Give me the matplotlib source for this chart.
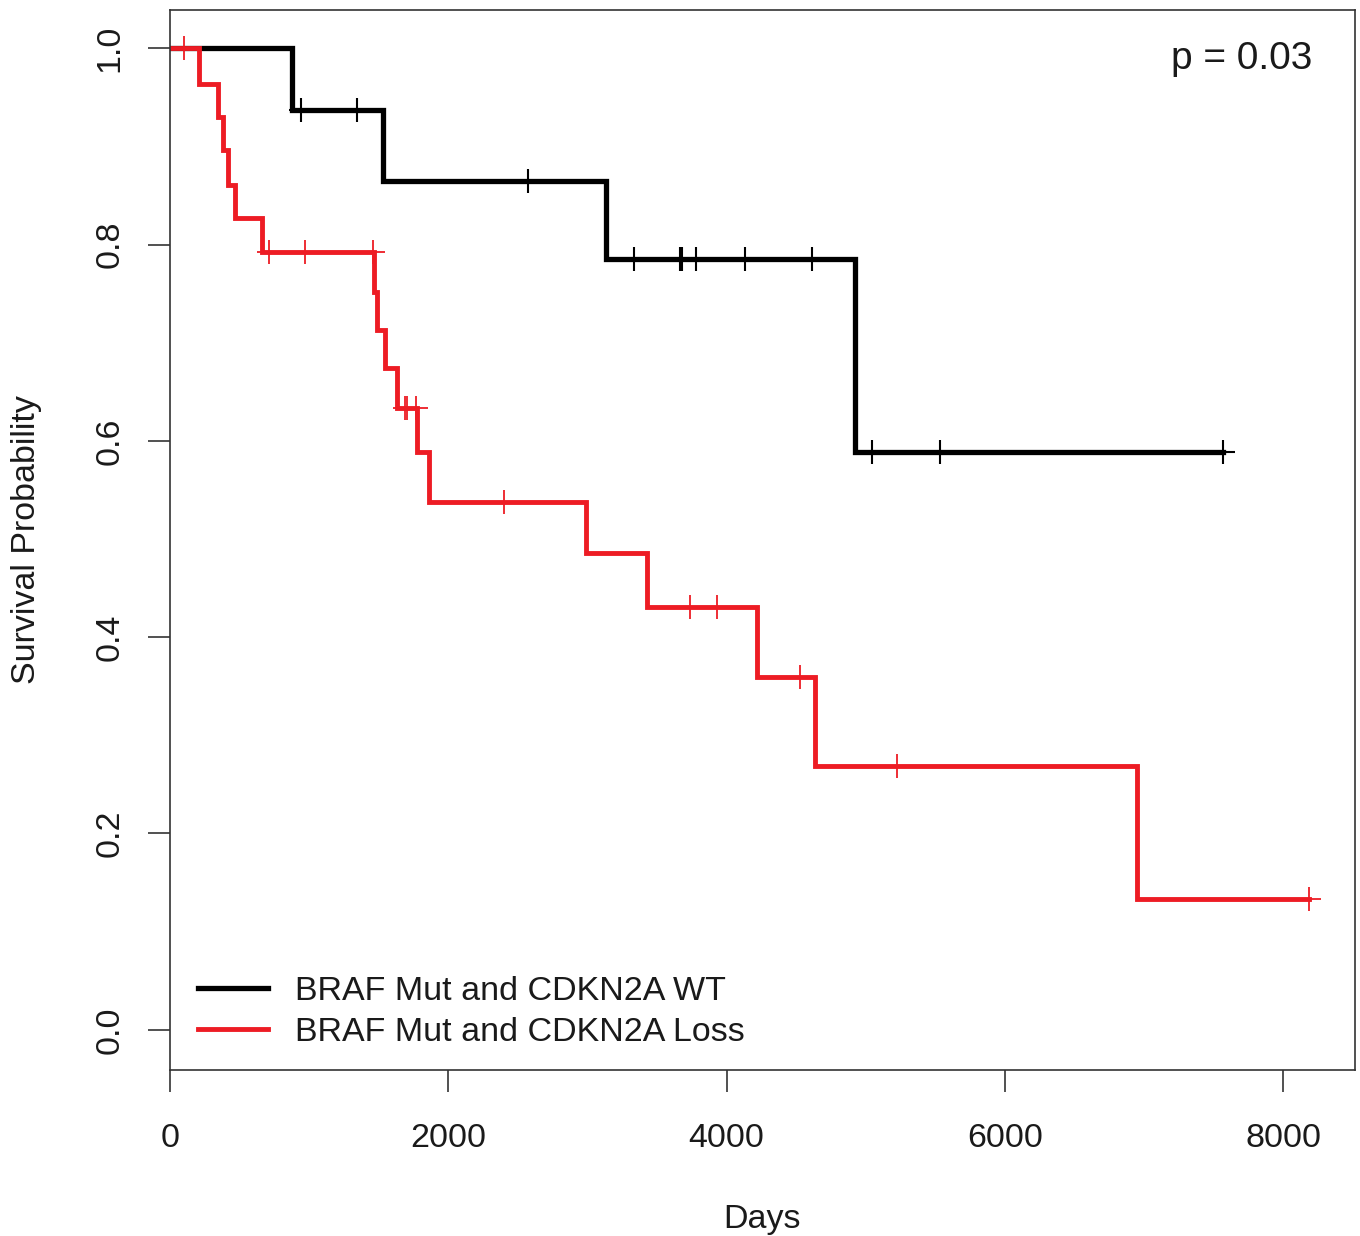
# Kaplan-Meier curves: BRAF Mut with CDKN2A WT vs CDKN2A Loss
import numpy as np
import matplotlib.pyplot as plt

plt.rcParams['font.family'] = ['Liberation Sans', 'DejaVu Sans']

# step curves (time in days, survival after the step)
wt_times = [0, 877, 1530, 3133, 4923, 7567]
wt_surv = [1.0, 0.937, 0.865, 0.785, 0.589, 0.589]
wt_censor = [945, 1344, 2573, 3335, 3665, 3680, 3780, 4132, 4614, 5045, 5534, 7567]

loss_times = [0, 208, 345, 383, 418, 467, 661, 1466, 1487, 1545, 1631, 1775,
              1861, 2990, 3428, 4218, 4635, 6949, 8185]
loss_surv = [1.0, 0.964, 0.930, 0.896, 0.861, 0.827, 0.792, 0.752, 0.713, 0.674,
             0.633, 0.589, 0.538, 0.486, 0.431, 0.359, 0.269, 0.133, 0.133]
loss_censor = [100, 711, 970, 1459, 1689, 1703, 1770, 2400, 3737, 3931, 4527, 5225, 8185]

labels = ['BRAF Mut and CDKN2A WT', 'BRAF Mut and CDKN2A Loss']
colors = ['black', '#ED1C24']
p_text = 'p = 0.03'


def surv_at(times, surv, t):
    idx = np.searchsorted(times, t, side='right') - 1
    return np.array(surv)[idx]


fig = plt.figure(figsize=(13.6, 12.36), dpi=100)
ax = fig.add_axes([0.125, 0.1343, 0.8713, 0.8576])

series = [(wt_times, wt_surv, wt_censor, 3.8, 1.5),
          (loss_times, loss_surv, loss_censor, 3.5, 1.3)]
handles = []
for (t, s, c, lw, mew), col, lab in zip(series, colors, labels):
    h, = ax.step(t, s, where='post', color=col, lw=lw, solid_joinstyle='miter',
                 label=lab)
    ax.plot(c, surv_at(t, s, c), ls='none', marker='+', color=col,
            markersize=17, mew=mew)
    handles.append(h)

ax.set_xlim(0, 8516)
ax.set_ylim(-0.041, 1.039)
ax.set_xticks([0, 2000, 4000, 6000, 8000])
ax.set_yticks([0.0, 0.2, 0.4, 0.6, 0.8, 1.0])
ax.set_yticklabels(['0.0', '0.2', '0.4', '0.6', '0.8', '1.0'],
                   rotation=90, va='center')
ax.tick_params(length=16, width=1.2, labelsize=24.5, color='#333333',
               labelcolor='#1a1a1a')
ax.tick_params(axis='x', pad=22)
ax.tick_params(axis='y', pad=16)
for sp in ax.spines.values():
    sp.set_linewidth(1.2)
    sp.set_color('#333333')

ax.set_xlabel('Days', fontsize=24.5, color='#1a1a1a', labelpad=36)
ax.set_ylabel('Survival Probability', fontsize=24.5, color='#1a1a1a', labelpad=38)

ax.text(0.964, 0.954, p_text, transform=ax.transAxes, ha='right', va='center',
        fontsize=28, color='#1a1a1a')

leg = ax.legend(handles=handles, loc='lower left', bbox_to_anchor=(0.012, 0.008),
                frameon=False, fontsize=24.5, handlelength=2.05, handletextpad=0.8,
                labelspacing=0.3, borderaxespad=0)
for txt in leg.get_texts():
    txt.set_color('#1a1a1a')

fig.savefig('out.png', dpi=100)
